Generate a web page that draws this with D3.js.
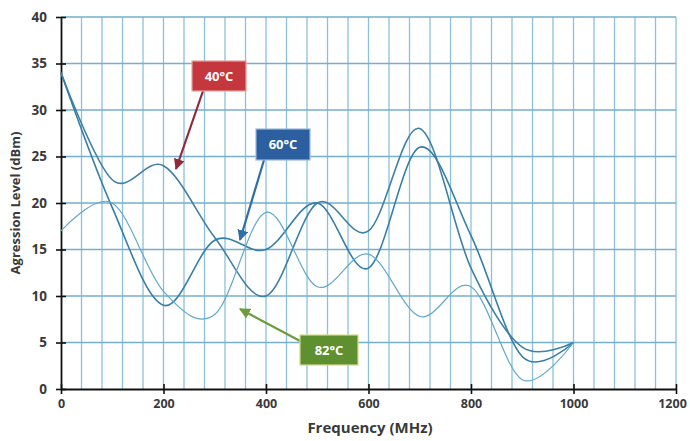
<!DOCTYPE html>
<html><head><meta charset="utf-8">
<script src="https://cdn.jsdelivr.net/npm/d3@7"></script>
<style>body{margin:0;background:#fff}svg{display:block}</style>
</head><body><div id="chart"></div>
<script>
const freqs = [0,100,200,300,400,500,600,700,800,900,1000];
const temp40 = [34,22.5,24,16.3,10,20,17,28,13,4.5,5];
const temp60 = [34,19.5,9,16,15,20,13,26,16.5,3.5,5];
const temp82 = [17,20,10.5,8,19,11,14.5,7.8,11,1,5];
const xTicks = [0,200,400,600,800,1000,1200];
const yTicks = [0,5,10,15,20,25,30,35,40];
const seriesNames = ["40°C","60°C","82°C"];

const W=690,H=441;
const svg=d3.select("#chart").append("svg").attr("width",W).attr("height",H);
const x=d3.scaleLinear().domain([0,1200]).range([61,676]);
const y=d3.scaleLinear().domain([0,40]).range([389,17]);
const font="'Open Sans', 'DejaVu Sans', sans-serif";

// grid
const g=svg.append("g");
g.selectAll(".vg").data(d3.range(40,1201,40)).enter().append("line")
 .attr("x1",d=>x(d)).attr("x2",d=>x(d)).attr("y1",y(40)).attr("y2",y(0))
 .attr("stroke","#8cc0da").attr("stroke-width",1.3);
g.selectAll(".hg").data(yTicks.filter(d=>d>0)).enter().append("line")
 .attr("x1",x(0)).attr("x2",x(1200)).attr("y1",d=>y(d)).attr("y2",d=>y(d))
 .attr("stroke","#74afcd").attr("stroke-width",1.6);

// axes
const xAxis=svg.append("g").attr("transform",`translate(0,${y(0)})`)
 .call(d3.axisBottom(x).tickValues(xTicks).tickFormat(d3.format("d")).tickSizeInner(5).tickSizeOuter(0).tickPadding(10));
xAxis.selectAll(".tick line").attr("y1",-5).attr("stroke","#111").attr("stroke-width",1.6);
const yAxis=svg.append("g").attr("transform",`translate(${x(0)},0)`)
 .call(d3.axisLeft(y).tickValues(yTicks).tickSizeInner(5).tickSizeOuter(0).tickPadding(9));
yAxis.selectAll(".tick line").attr("x1",5).attr("stroke","#111").attr("stroke-width",1.6);
[xAxis,yAxis].forEach(a=>{
  a.select(".domain").attr("stroke","#111").attr("stroke-width",1.8);
  a.selectAll("text").attr("font-family",font).attr("font-size",13.5).attr("font-weight","bold").attr("fill","#3a3a3a");
});
xAxis.selectAll("text").attr("dy","0.35em").attr("font-size",12.5);
xAxis.selectAll(".tick").filter(d=>d===1200).select("text").attr("dx",-4);

// lines
const line=(vals)=>d3.line().x((d,i)=>x(freqs[i])).y(d=>y(d)).curve(d3.curveCardinal.tension(0))(vals);
const series=[{v:temp40,c:"#3f80a4",w:1.6},{v:temp60,c:"#347ea8",w:1.6},{v:temp82,c:"#62a8c8",w:1.2}];
svg.selectAll(".ser").data(series).enter().append("path")
 .attr("d",d=>line(d.v)).attr("fill","none").attr("stroke",d=>d.c).attr("stroke-width",d=>d.w);

// axis titles
svg.append("text").attr("x",370).attr("y",433).attr("text-anchor","middle")
 .attr("font-family",font).attr("font-size",15).attr("font-weight","bold").attr("fill","#3a3a3a").text("Frequency (MHz)");
svg.append("text").attr("transform","translate(20,203) rotate(-90)").attr("text-anchor","middle")
 .attr("font-family",font).attr("font-size",13).attr("font-weight","bold").attr("fill","#3a3a3a").text("Agression Level (dBm)");

// annotations
const defs=svg.append("defs");
const ann=[
 {t:seriesNames[0],bx:192,by:61,bw:54,bh:30,fill:"#c4373d",stroke:"#e8a0a0",ac:"#8e2a3a",x1:203,y1:91,x2:176,y2:169},
 {t:seriesNames[1],bx:256,by:129,bw:54,bh:31,fill:"#2b5fa0",stroke:"#9ab8dc",ac:"#2f6fa6",x1:264,y1:160,x2:240,y2:240},
 {t:seriesNames[2],bx:300,by:335,bw:58,bh:30,fill:"#5f9030",stroke:"#d8d88a",ac:"#6d9c3e",x1:302,y1:342,x2:240,y2:309}
];
ann.forEach((a,i)=>{
  defs.append("marker").attr("id","ah"+i).attr("viewBox","0 0 10 10").attr("refX",9).attr("refY",5)
   .attr("markerWidth",5).attr("markerHeight",5).attr("orient","auto")
   .append("path").attr("d","M0,0L10,5L0,10z").attr("fill",a.ac);
  svg.append("line").attr("x1",a.x1).attr("y1",a.y1).attr("x2",a.x2).attr("y2",a.y2)
   .attr("stroke",a.ac).attr("stroke-width",2.2).attr("marker-end",`url(#ah${i})`);
  svg.append("rect").attr("x",a.bx).attr("y",a.by).attr("width",a.bw).attr("height",a.bh)
   .attr("fill",a.fill).attr("stroke",a.stroke).attr("stroke-width",1.2);
  svg.append("text").attr("x",a.bx+a.bw/2).attr("y",a.by+a.bh/2).attr("dy","0.36em").attr("text-anchor","middle")
   .attr("font-family",font).attr("font-size",13).attr("font-weight","bold").attr("fill","#fff").text(a.t);
});
</script></body></html>
